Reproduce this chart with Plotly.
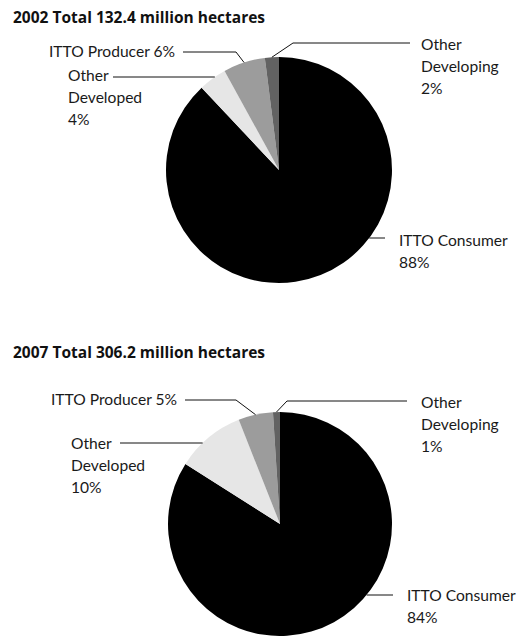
import math
import plotly.graph_objects as go

W, H = 516, 636

# Shares of the total area, per group
groups = ["ITTO Consumer", "Other Developed", "ITTO Producer", "Other Developing"]
share_2002 = [88, 4, 6, 2]
share_2007 = [84, 10, 5, 1]
titles = ["2002 Total 132.4 million hectares", "2007 Total 306.2 million hectares"]
label_text_2002 = [["ITTO Consumer", "88%"], ["Other", "Developed", "4%"],
                   ["ITTO Producer 6%"], ["Other", "Developing", "2%"]]
label_text_2007 = [["ITTO Consumer", "84%"], ["Other", "Developed", "10%"],
                   ["ITTO Producer 5%"], ["Other", "Developing", "1%"]]

colors = ["#000000", "#e6e6e6", "#9c9c9c", "#626262"]
LABEL_FONT = "Lato"
TITLE_FONT = "Open Sans"
LINE_GAP = 22


def px(x):
    return x / W


def py(y):
    return 1 - y / H


# Pie placement (pixel centre, radius) and title position
pies = [
    dict(cx=279, cy=170, r=113, title_y=17, values=share_2002, texts=label_text_2002,
         # per-label: text left x, first-line y, leader y, far end x, elbow x
         layout=[(397, 240, 238, 385, None),
                 (66, 75, 77, 113, None),
                 (47, 51, 52, 183, 236),
                 (419, 44, 43, 410, 293)]),
    dict(cx=280, cy=524, r=112, title_y=352, values=share_2007, texts=label_text_2007,
         layout=[(405, 595, 595, 393, None),
                 (69, 443, 443, 120, None),
                 (49, 399, 400, 185, 236),
                 (419, 402, 401, 407, 287)]),
]

fig = go.Figure()
annotations = []
shapes = []

for n, p in enumerate(pies):
    cx, cy, r = p["cx"], p["cy"], p["r"]
    fig.add_trace(go.Pie(
        labels=groups, values=p["values"], sort=False, direction="clockwise",
        rotation=0, textinfo="none", hoverinfo="skip", showlegend=False,
        marker=dict(colors=colors, line=dict(width=0)),
        domain=dict(x=[px(cx - r), px(cx + r)],
                    y=[max(0, py(cy + r)), min(1, py(cy - r))]),
    ))

    annotations.append(dict(
        text="<b>" + titles[n] + "</b>", x=px(11), y=py(p["title_y"]),
        xref="paper", yref="paper", xanchor="left", yanchor="middle",
        showarrow=False, font=dict(family=TITLE_FONT, size=15.5, color="#111111")))

    total = sum(p["values"])
    start = 0.0
    for i, (tx, ty, ly, far_x, elbow_x) in enumerate(p["layout"]):
        frac = p["values"][i] / total
        mid = (start + frac / 2) * 2 * math.pi
        start += frac
        for k, line in enumerate(p["texts"][i]):
            annotations.append(dict(
                text=line, x=px(tx), y=py(ty + k * LINE_GAP),
                xref="paper", yref="paper", xanchor="left", yanchor="middle",
                showarrow=False, font=dict(family=LABEL_FONT, size=15.6, color="#1a1a1a")))
        if elbow_x is None:
            # horizontal leader ending at the rim of the pie
            dx = math.sqrt(max(r * r - (ly - cy) ** 2, 0))
            edge_x = cx + dx if far_x > cx else cx - dx
            pts = [(far_x, ly), (edge_x, ly)]
        else:
            # elbowed leader pointing to the middle of the slice
            ax = cx + r * math.sin(mid)
            ay = cy - r * math.cos(mid)
            pts = [(far_x, ly), (elbow_x, ly), (ax, ay)]
        for (x0, y0), (x1, y1) in zip(pts[:-1], pts[1:]):
            shapes.append(dict(type="line", xref="paper", yref="paper",
                               x0=px(x0), y0=py(y0), x1=px(x1), y1=py(y1),
                               line=dict(color="#111111", width=1)))

fig.update_layout(
    width=W, height=H, margin=dict(l=0, r=0, t=0, b=0),
    paper_bgcolor="white", plot_bgcolor="white",
    annotations=annotations, shapes=shapes,
)

fig.write_html("out.html", config={"displayModeBar": False})
